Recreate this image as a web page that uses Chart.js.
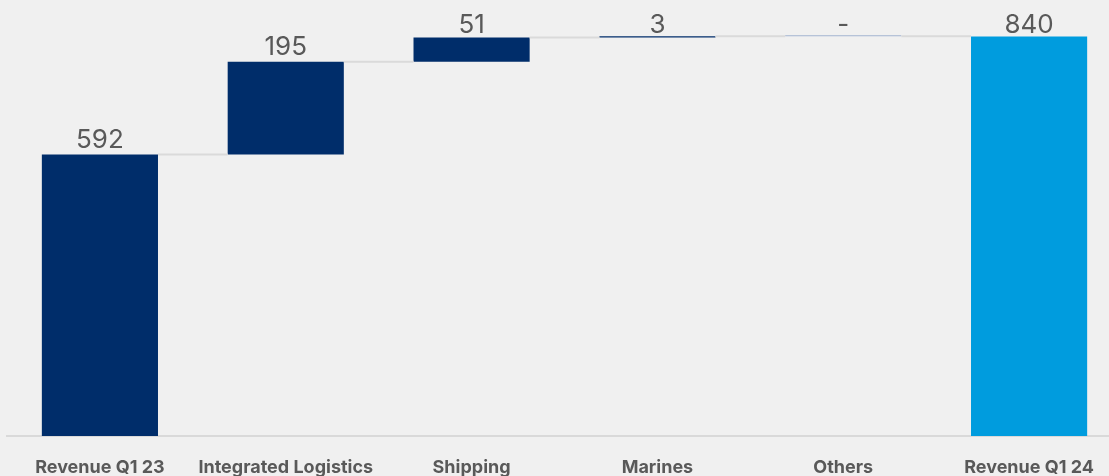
<!DOCTYPE html>
<html>
<head>
<meta charset="utf-8">
<script src="https://cdn.jsdelivr.net/npm/chart.js@4.4.1/dist/chart.umd.min.js"></script>
<style>
  html, body { margin: 0; padding: 0; background: #f0f0f0; overflow: hidden; }
  #wrap { width: 1122px; height: 476px; }
</style>
</head>
<body>
<div id="wrap"><canvas id="c" width="1122" height="476"></canvas></div>
<script>
const categories = ['Revenue Q1 23', 'Integrated Logistics', 'Shipping', 'Marines', 'Others', 'Revenue Q1 24'];
const values = [592, 195, 51, 3, 0, 840];
const kinds = ['total', 'delta', 'delta', 'delta', 'delta', 'total'];
const valueLabels = ['592', '195', '51', '3', '-', '840'];
const yMax = 917;

// build floating ranges from the values
const ranges = [];
let run = 0;
values.forEach((v, i) => {
  if (kinds[i] === 'total') { ranges.push([0, v]); run = v; }
  else { ranges.push([run, run + v]); run += v; }
});

const navy = '#002d6a';
const sky = '#009cde';
const mainData = ranges.map((r, i) => values[i] === 0 ? null : r);
const mainColors = kinds.map((k, i) => i === kinds.length - 1 ? sky : navy);
const zeroData = ranges.map((r, i) => values[i] === 0 ? r : null);

const overlay = {
  id: 'overlay',
  afterDatasetsDraw(chart) {
    const ctx = chart.ctx;
    const y = chart.scales.y;
    const meta = chart.getDatasetMeta(0);
    const meta2 = chart.getDatasetMeta(1);
    const bars = ranges.map((r, i) => (mainData[i] ? meta.data[i] : meta2.data[i]));
    // connectors
    ctx.save();
    ctx.strokeStyle = '#dadada';
    ctx.lineWidth = 2;
    for (let i = 0; i < ranges.length - 1; i++) {
      const a = bars[i], b = bars[i + 1];
      const level = y.getPixelForValue(ranges[i][1]);
      ctx.beginPath();
      ctx.moveTo(a.x + a.width / 2, level);
      ctx.lineTo(b.x - b.width / 2, level);
      ctx.stroke();
    }
    // value labels
    ctx.fillStyle = '#595959';
    ctx.font = '26px Inter, "Liberation Sans", Arial, sans-serif';
    ctx.textAlign = 'center';
    ctx.textBaseline = 'alphabetic';
    for (let i = 0; i < ranges.length; i++) {
      const top = y.getPixelForValue(Math.max(ranges[i][0], ranges[i][1]));
      const ty = Math.max(top - 7, chart.chartArea.top + 33);
      ctx.fillText(valueLabels[i], bars[i].x, ty);
    }
    ctx.restore();
  }
};

new Chart(document.getElementById('c'), {
  type: 'bar',
  data: {
    labels: categories,
    datasets: [
      {
        data: mainData,
        backgroundColor: mainColors,
        borderWidth: 0,
        grouped: false,
        categoryPercentage: 1,
        barPercentage: 0.625,
        minBarLength: 1
      },
      {
        data: zeroData,
        backgroundColor: '#a3b4d1',
        borderWidth: 0,
        grouped: false,
        categoryPercentage: 1,
        barPercentage: 0.625,
        minBarLength: 1
      }
    ]
  },
  options: {
    responsive: false,
    animation: false,
    layout: { padding: { left: 7, right: 0, top: 0, bottom: 0 } },
    plugins: { legend: { display: false }, tooltip: { enabled: false } },
    scales: {
      x: {
        grid: { display: false, drawTicks: false },
        border: { display: true, color: '#d9d9d9', width: 2 },
        ticks: {
          color: '#595959',
          padding: 21,
          maxRotation: 0,
          autoSkip: false,
          font: { family: 'Inter, "Liberation Sans", Arial, sans-serif', size: 18, weight: 'bold' }
        },
        afterFit(s) { s.height = 40; }
      },
      y: {
        display: false,
        min: 0,
        max: yMax
      }
    }
  },
  plugins: [overlay]
});
</script>
</body>
</html>
